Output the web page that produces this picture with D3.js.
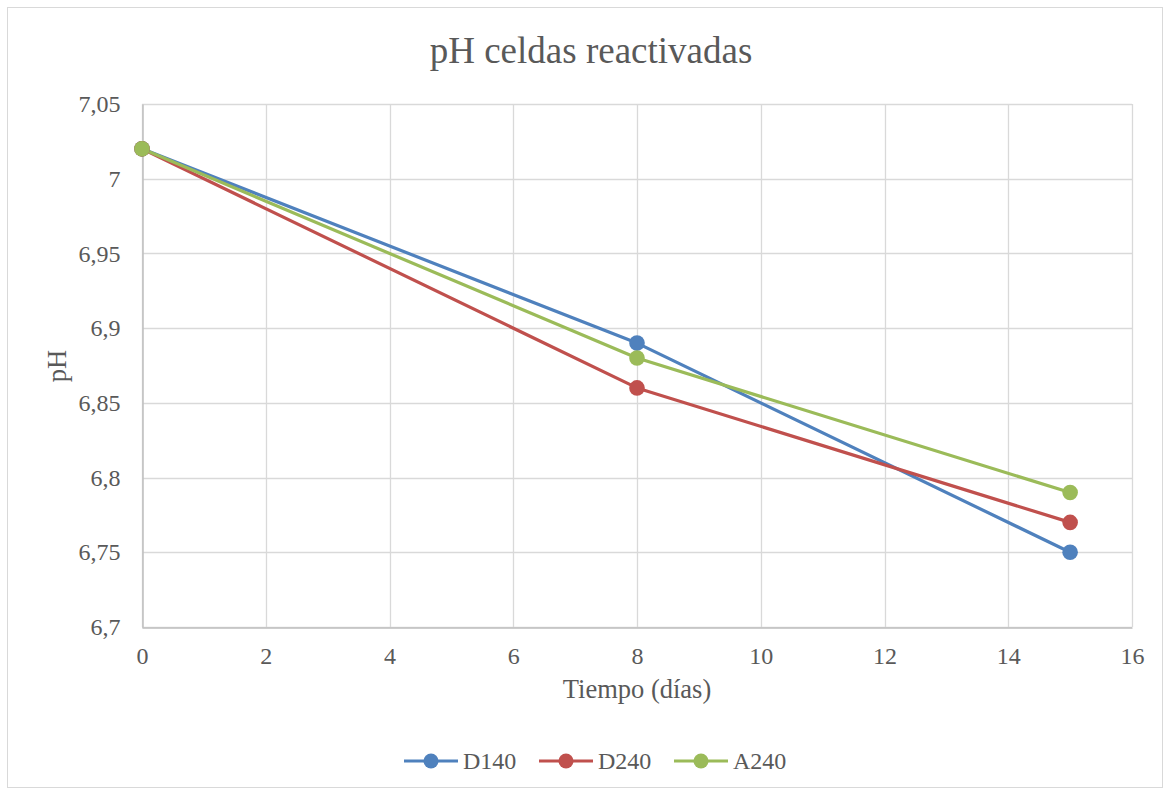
<!DOCTYPE html>
<html><head><meta charset="utf-8">
<script src="https://cdn.jsdelivr.net/npm/d3@7"></script>
<style>body{margin:0;background:#fff}svg{display:block}</style>
</head><body>
<script>
const times = [0, 8, 15];
const seriesNames = ["D140", "D240", "A240"];
const D140 = [7.02, 6.89, 6.75];
const D240 = [7.02, 6.86, 6.77];
const A240 = [7.02, 6.88, 6.79];
const colors = ["#4f81bd", "#c0504d", "#9bbb59"];
const xTicks = [0, 2, 4, 6, 8, 10, 12, 14, 16];
const yTicks = [6.7, 6.75, 6.8, 6.85, 6.9, 6.95, 7, 7.05];
const seriesValues = [D140, D240, A240];

const W = 1171, H = 795;
const font = "'Liberation Serif','Times New Roman',serif";
const svg = d3.select("body").append("svg").attr("width", W).attr("height", H);
svg.append("rect").attr("x", 0).attr("y", 0).attr("width", W).attr("height", H).attr("fill", "#fff");
svg.append("rect").attr("x", 7.5).attr("y", 7.5).attr("width", 1155).attr("height", 780)
  .attr("fill", "none").attr("stroke", "#d9d9d9").attr("stroke-width", 1);

const x = d3.scaleLinear().domain([0, 16]).range([142, 1132]);
const y = d3.scaleLinear().domain([6.7, 7.05]).range([627, 104]);

const fmt = v => String(+v.toFixed(2)).replace(".", ",");

// gridlines
svg.append("g").selectAll("line").data(yTicks).join("line")
  .attr("x1", 142).attr("x2", 1132)
  .attr("y1", d => Math.round(y(d)) + 0.5).attr("y2", d => Math.round(y(d)) + 0.5)
  .attr("stroke", "#d9d9d9").attr("stroke-width", 1.3);
svg.append("g").selectAll("line").data(xTicks).join("line")
  .attr("y1", 104).attr("y2", 627)
  .attr("x1", d => Math.round(x(d)) + 0.5).attr("x2", d => Math.round(x(d)) + 0.5)
  .attr("stroke", "#d9d9d9").attr("stroke-width", 1.3);

// axes
const xAxis = svg.append("g").attr("transform", "translate(0,627.5)")
  .call(d3.axisBottom(x).tickValues(xTicks).tickSize(0).tickPadding(19).tickFormat(d => d));
xAxis.select(".domain").attr("stroke", "#bfbfbf").attr("stroke-width", 1.5);
xAxis.selectAll("text").attr("font-family", font).attr("font-size", 24).attr("fill", "#595959");

const yAxis = svg.append("g").attr("transform", "translate(142.5,0)")
  .call(d3.axisLeft(y).tickValues(yTicks).tickSize(0).tickPadding(22).tickFormat(fmt));
yAxis.select(".domain").attr("stroke", "#bfbfbf").attr("stroke-width", 1.5);
yAxis.selectAll("text").attr("font-family", font).attr("font-size", 24).attr("fill", "#595959");

// titles
svg.append("text").attr("x", 591).attr("y", 63).attr("text-anchor", "middle")
  .attr("font-family", font).attr("font-size", 37).attr("fill", "#595959").text("pH celdas reactivadas");
svg.append("text").attr("x", 637).attr("y", 698).attr("text-anchor", "middle")
  .attr("font-family", font).attr("font-size", 26.5).attr("fill", "#595959").text("Tiempo (días)");
svg.append("text").attr("transform", "translate(66,366) rotate(-90)").attr("text-anchor", "middle")
  .attr("font-family", font).attr("font-size", 26.5).attr("fill", "#595959").text("pH");

// series
const line = d3.line().x((d, i) => x(times[i])).y(d => y(d));
seriesValues.forEach((vals, si) => {
  svg.append("path").attr("d", line(vals)).attr("fill", "none")
    .attr("stroke", colors[si]).attr("stroke-width", 3.2).attr("stroke-linejoin", "round");
});
seriesValues.forEach((vals, si) => {
  svg.append("g").selectAll("circle").data(vals).join("circle")
    .attr("cx", (d, i) => x(times[i])).attr("cy", d => y(d)).attr("r", 7.8)
    .attr("fill", colors[si]);
});

// legend
const legX = [404, 539, 674];
seriesNames.forEach((n, i) => {
  const g = svg.append("g");
  g.append("line").attr("x1", legX[i]).attr("x2", legX[i] + 54).attr("y1", 761).attr("y2", 761)
    .attr("stroke", colors[i]).attr("stroke-width", 3.2);
  g.append("circle").attr("cx", legX[i] + 27).attr("cy", 761).attr("r", 7.5).attr("fill", colors[i]);
  g.append("text").attr("x", legX[i] + 59).attr("y", 769).attr("font-family", font)
    .attr("font-size", 24).attr("fill", "#595959").text(n);
});
</script>
</body></html>
